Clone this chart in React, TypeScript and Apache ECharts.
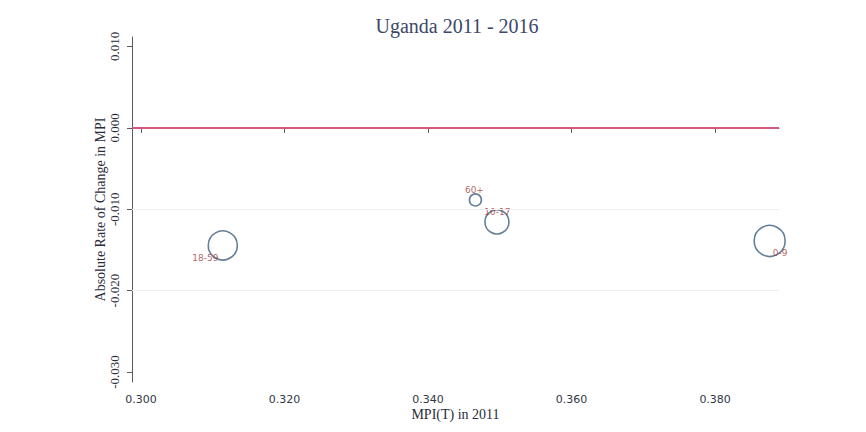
import React, { useEffect, useRef } from "react";
import * as echarts from "echarts";

// Data
const groups = ["0-9", "10-17", "18-59", "60+"];
const mpi2011 = [0.3876, 0.3496, 0.3114, 0.3466];
const absChange = [-0.0139, -0.01156, -0.01445, -0.00886];
const popShare = [31.5, 18.9, 27.6, 4.7];

const xTicks = [0.3, 0.32, 0.34, 0.36, 0.38];
const yTicks = [-0.03, -0.02, -0.01, 0, 0.01];
const yGrid = [-0.01, -0.02];

// label offsets (styling only)
const labelOffset: Record<string, [number, number]> = {
  "0-9": [10.5, 11.7],
  "10-17": [0.5, -9.5],
  "18-59": [-17.5, 12.5],
  "60+": [-1, -10],
};

export default function App() {
  const ref = useRef<HTMLDivElement>(null);
  useEffect(() => {
    if (!ref.current) return;
    const chart = echarts.init(ref.current, undefined, { renderer: "svg" });
    const sizeK = 5.52;
    const scatterData = groups.map((g, i) => ({
      name: g,
      value: [mpi2011[i], absChange[i], popShare[i]],
      symbolSize: sizeK * Math.sqrt(popShare[i]),
      label: { offset: labelOffset[g] },
    }));
    const serif = "Liberation Serif";
    const sans = "DejaVu Sans";
    chart.setOption({
      animation: false,
      backgroundColor: "#ffffff",
      title: {
        text: "Uganda 2011 - 2016",
        left: 452,
        top: 11,
        textAlign: "center",
        textStyle: { fontFamily: serif, fontSize: 20, fontWeight: "normal", color: "#3d4769" },
      },
      grid: { left: 132, top: 37, right: 87, bottom: 50, containLabel: false },
      xAxis: {
        type: "value",
        min: 0.29875,
        max: 0.3889,
        name: "MPI(T) in 2011",
        nameLocation: "middle",
        nameGap: 25,
        nameMoveOverlap: false,
        nameTextStyle: { fontFamily: serif, fontSize: 14, color: "#2b2b3b" },
        axisLine: { show: true, lineStyle: { color: "#5a5a5a", width: 1 } },
        axisTick: { show: true, length: 5, customValues: xTicks, lineStyle: { color: "#5a5a5a" } },
        axisLabel: {
          customValues: xTicks,
          formatter: (v: number) => v.toFixed(3),
          fontFamily: sans,
          fontSize: 11,
          color: "#303845",
          margin: 12,
        },
        splitLine: { show: false },
      },
      yAxis: {
        type: "value",
        min: -0.03123,
        max: 0.01116,
        name: "Absolute Rate of Change in MPI",
        nameLocation: "middle",
        nameGap: 25,
        nameMoveOverlap: false,
        nameTextStyle: { fontFamily: serif, fontSize: 14, color: "#2b2b3b" },
        axisLine: { show: true, lineStyle: { color: "#5a5a5a", width: 1 } },
        axisTick: { show: true, length: 5, customValues: yTicks, lineStyle: { color: "#5a5a5a" } },
        axisLabel: {
          customValues: yTicks,
          formatter: (v: number) => (Math.abs(v) < 1e-9 ? "0.000" : v.toFixed(3)),
          fontFamily: serif,
          fontSize: 13,
          color: "#2b2b3b",
          rotate: 90,
          margin: 11,
        },
        splitLine: { show: false },
      },
      series: [
        {
          type: "line",
          data: [],
          z: 1,
          silent: true,
          markLine: {
            silent: true,
            symbol: ["none", "none"],
            label: { show: false },
            animation: false,
            data: [
              ...yGrid.map((v) => ({ yAxis: v, lineStyle: { color: "#eaf0f0", width: 1, type: "solid" } })),
              { yAxis: 0, lineStyle: { color: "#d4577a", width: 2, type: "solid" } },
            ],
          },
        },
        {
          type: "scatter",
          z: 3,
          data: scatterData,
          itemStyle: { color: "rgba(0,0,0,0)", borderColor: "#3f5f80", borderWidth: 1.6 },
          label: {
            show: true,
            position: "inside",
            formatter: (p: any) => p.name,
            fontFamily: sans,
            fontSize: 9,
            color: "#a03838",
          },
        },
      ],
    });
    return () => chart.dispose();
  }, []);
  return (
    <div
      ref={ref}
      style={{ position: "fixed", left: 0, top: 0, width: 866, height: 432 }}
    />
  );
}
